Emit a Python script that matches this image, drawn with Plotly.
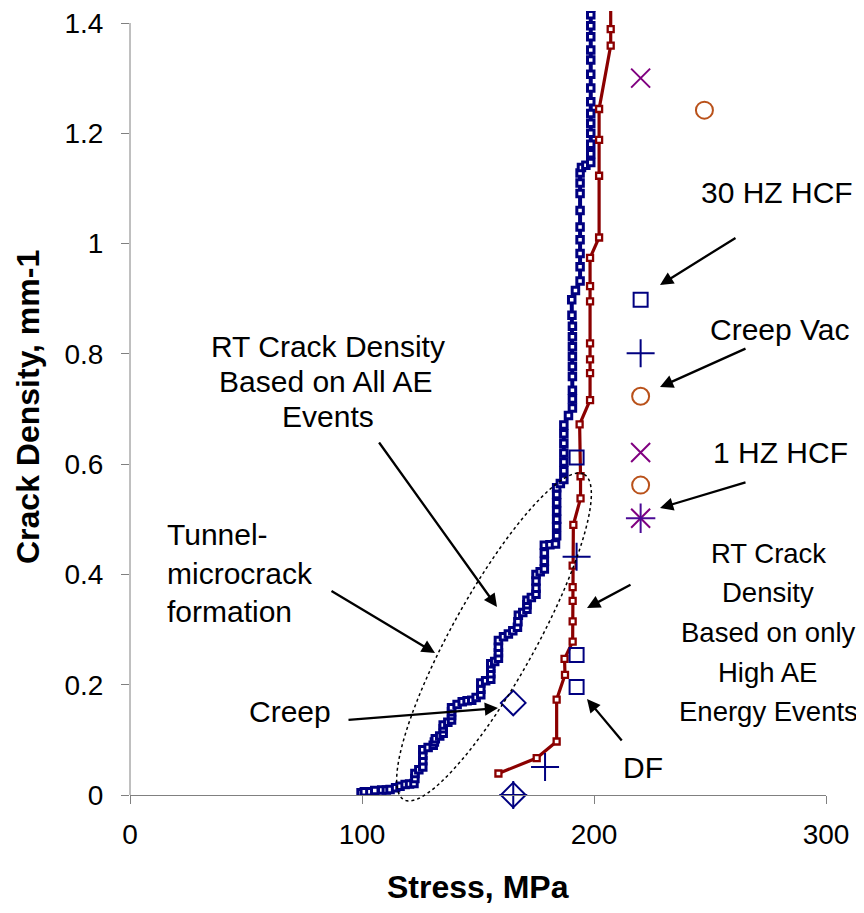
import numpy as np
import plotly.graph_objects as go

# ---------------- data ----------------
# RT crack density based on all AE events (navy step curve)
stress_all_ae = [
    99.6, 101.0, 103.4, 105.5, 108.5, 110.5, 112.1, 114.5, 116.4, 118.6,
    120.5, 122.4, 122.8, 122.8, 124.5, 126.2, 126.2, 126.2, 126.2, 128.5,
    130.7, 131.2, 131.6, 133.5, 135.0, 135.0, 135.0, 137.0, 138.6, 138.6,
    138.6, 138.6, 141.0, 143.2, 145.3, 147.3, 149.2, 151.2, 151.2, 151.2,
    153.3, 155.5, 155.5, 155.5, 155.5, 157.2, 158.8, 158.8, 158.8, 158.8,
    161.0, 163.1, 165.0, 167.0, 167.2, 167.4, 169.3, 171.1, 171.1, 171.1,
    173.0, 175.0, 175.0, 175.0, 175.0, 176.8, 178.6, 178.6, 178.6, 178.6,
    181.0, 183.4, 183.9, 183.9, 183.9, 183.9, 183.9, 183.9, 183.9, 185.5,
    187.0, 187.0, 187.0, 187.0, 187.0, 187.0, 187.0, 189.0, 190.7, 190.7,
    190.7, 190.7, 190.7, 190.7, 190.7, 190.7, 190.7, 190.5, 190.4, 192.0,
    194.0, 194.0, 194.0, 194.0, 194.0, 194.0, 194.0, 194.0, 194.0, 194.6,
    196.5, 198.6, 198.6, 198.6, 198.6, 198.6, 198.6, 198.6, 198.6, 198.6,
    198.6, 198.6, 198.6, 198.6, 198.6, 201.9,
]
density_all_ae = [
    0.004, 0.006, 0.006, 0.008, 0.009, 0.009, 0.010, 0.013, 0.016, 0.019,
    0.020, 0.021, 0.030, 0.039, 0.046, 0.051, 0.062, 0.072, 0.082, 0.086,
    0.090, 0.096, 0.102, 0.107, 0.112, 0.120, 0.127, 0.132, 0.136, 0.144,
    0.151, 0.158, 0.164, 0.169, 0.171, 0.172, 0.177, 0.182, 0.192, 0.203,
    0.207, 0.210, 0.220, 0.230, 0.238, 0.242, 0.248, 0.258, 0.268, 0.280,
    0.287, 0.292, 0.298, 0.304, 0.314, 0.326, 0.331, 0.337, 0.345, 0.353,
    0.358, 0.364, 0.375, 0.388, 0.400, 0.405, 0.410, 0.424, 0.439, 0.453,
    0.454, 0.455, 0.470, 0.487, 0.500, 0.515, 0.530, 0.545, 0.557, 0.565,
    0.572, 0.588, 0.604, 0.620, 0.638, 0.655, 0.671, 0.688, 0.702, 0.718,
    0.734, 0.759, 0.777, 0.795, 0.813, 0.831, 0.850, 0.870, 0.898, 0.915,
    0.932, 0.958, 0.982, 1.007, 1.030, 1.060, 1.091, 1.110, 1.128, 1.138,
    1.142, 1.147, 1.163, 1.180, 1.200, 1.218, 1.236, 1.257, 1.282, 1.307,
    1.333, 1.351, 1.375, 1.395, 1.415, 1.435,
]

# RT crack density based on only high AE energy events (dark red curve)
stress_high_ae = [158.8, 175.3, 183.9, 183.9, 187.5, 187.3, 190.8, 190.8, 190.8, 190.8,
                  190.8, 191.1, 194.2, 194.2, 193.8, 198.3, 198.3, 198.3, 198.3, 198.3,
                  198.3, 198.3, 202.2, 202.2, 202.2, 202.2, 207.2, 207.2, 207.2]
density_high_ae = [0.039, 0.067, 0.097, 0.173, 0.218, 0.247, 0.278, 0.315, 0.352, 0.377,
                   0.416, 0.490, 0.538, 0.578, 0.672, 0.716, 0.765, 0.790, 0.819, 0.895,
                   0.923, 0.974, 1.011, 1.123, 1.188, 1.244, 1.359, 1.389, 1.450]

# individual test points
square_stress = [192.5, 192.5, 192.5, 220.1]
square_density = [0.612, 0.254, 0.196, 0.898]
plus_stress = [220.1, 192.5, 178.9, 165.2]
plus_density = [0.801, 0.432, 0.051, 0.0]
diamond_stress = [165.2, 165.2]
diamond_density = [0.167, 0.0]
circle_stress = [247.6, 220.1, 220.1]
circle_density = [1.242, 0.723, 0.562]
xmark_stress = [220.1, 220.1]
xmark_density = [1.300, 0.621]
star_stress = [220.1]
star_density = [0.502]

x_ticks = [0, 100, 200, 300]
y_ticks = [0, 0.2, 0.4, 0.6, 0.8, 1.0, 1.2, 1.4]
y_tick_text = ["0", "0.2", "0.4", "0.6", "0.8", "1", "1.2", "1.4"]

# ---------------- layout geometry (window pixels) ----------------
WIN_W, WIN_H = 864, 913
OFF = 8                  # default page margin in front of the figure
W, H = WIN_W - OFF, WIN_H - OFF
L, R = 130, 826          # window pixel x of stress 0 and 300
B = 795                  # window pixel y of density 0
T_TICK = 23              # window pixel y of density 1.4
T_CLIP = 11              # top of plotting area (curves run slightly above 1.4)
PPU_Y = (B - T_TICK) / 1.4
Y_TOP = 1.4 + (T_TICK - T_CLIP) / PPU_Y

NAVY = "#000080"
DRED = "#8B0000"
BROWN = "#B9511A"
PURPLE = "#800080"
GRAY = "#808080"
FONT = "Liberation Sans, Arial, sans-serif"


def px2x(px):
    return (px - L) / (R - L) * 300.0


def py2y(py):
    return (B - py) / PPU_Y


def ppx(px):
    return (px - L) / (R - L)


def ppy(py):
    return (B - py) / (B - T_CLIP)


fig = go.Figure()

fig.add_trace(go.Scatter(
    x=stress_all_ae, y=density_all_ae, mode="lines+markers",
    name="RT Crack Density Based on All AE Events",
    line=dict(color=NAVY, width=4),
    marker=dict(symbol="square", size=6.5, color="white", line=dict(color=NAVY, width=3)),
))
fig.add_trace(go.Scatter(
    x=stress_high_ae, y=density_high_ae, mode="lines+markers",
    name="RT Crack Density Based on only High AE Energy Events",
    line=dict(color=DRED, width=3.2),
    marker=dict(symbol="square", size=6, color="white", line=dict(color=DRED, width=2.3)),
))

fig.add_trace(go.Scatter(
    x=square_stress, y=square_density, mode="markers", name="squares", cliponaxis=False,
    marker=dict(symbol="square-open", size=14, color=NAVY, line=dict(color=NAVY, width=2)),
))
fig.add_trace(go.Scatter(
    x=plus_stress, y=plus_density, mode="markers", name="plus", cliponaxis=False,
    marker=dict(symbol="cross-thin-open", size=20, color=NAVY, line=dict(color=NAVY, width=2)),
))
fig.add_trace(go.Scatter(
    x=diamond_stress, y=diamond_density, mode="markers", name="diamonds", cliponaxis=False,
    marker=dict(symbol="diamond-open", size=19, color=NAVY, line=dict(color=NAVY, width=2)),
))
fig.add_trace(go.Scatter(
    x=circle_stress, y=circle_density, mode="markers", name="circles", cliponaxis=False,
    marker=dict(symbol="circle-open", size=17, color=BROWN, line=dict(color=BROWN, width=2)),
))
fig.add_trace(go.Scatter(
    x=xmark_stress, y=xmark_density, mode="markers", name="x", cliponaxis=False,
    marker=dict(symbol="x-thin-open", size=19, color=PURPLE, line=dict(color=PURPLE, width=2)),
))
fig.add_trace(go.Scatter(
    x=star_stress, y=star_density, mode="markers", name="star x", cliponaxis=False,
    marker=dict(symbol="x-thin-open", size=19, color=PURPLE, line=dict(color=PURPLE, width=2)),
))
fig.add_trace(go.Scatter(
    x=star_stress, y=star_density, mode="markers", name="star +", cliponaxis=False,
    marker=dict(symbol="cross-thin-open", size=21, color="#4B0A96", line=dict(color="#4B0A96", width=2)),
))

# ---------------- annotations ----------------
annotations = []


def text(t, cx, cy, size=30, anchor="center"):
    annotations.append(dict(
        text=t, xref="paper", yref="paper", x=ppx(cx), y=ppy(cy),
        xanchor=anchor, yanchor="middle", showarrow=False,
        font=dict(family=FONT, size=size, color="black"),
    ))


def arrow(tail, head):
    annotations.append(dict(
        text="", xref="x", yref="y", x=px2x(head[0]), y=py2y(head[1]),
        axref="pixel", ayref="pixel", ax=tail[0] - head[0], ay=tail[1] - head[1],
        showarrow=True, arrowhead=2, arrowsize=1.15, arrowwidth=2.3, arrowcolor="black",
    ))


text("30 HZ HCF", 777, 192)
text("Creep Vac", 780, 329)
text("1 HZ HCF", 780, 453)
text("RT Crack Density", 328, 346)
text("Based on All AE", 326, 381)
text("Events", 328, 416)
text("Tunnel-", 165, 534, anchor="left")
text("microcrack", 165, 573, anchor="left")
text("formation", 165, 611, anchor="left")
text("Creep", 290, 711)
text("DF", 643, 767)
text("RT Crack", 768, 553, size=27.5)
text("Density", 768, 592, size=27.5)
text("Based on only", 768, 632, size=27.5)
text("High AE", 767, 672, size=27.5)
text("Energy Events", 768, 711, size=27.5)

arrow((737, 237), (660, 285))
arrow((747, 348), (660, 387))
arrow((747, 482), (660, 508))
arrow((378, 441), (497, 607))
arrow((330, 590), (435, 653))
arrow((347, 720), (498, 708))
arrow((632, 584), (587, 608))
arrow((623, 742), (587, 699))

# axis titles
annotations.append(dict(
    text="<b>Crack Density, mm-1</b>", xref="paper", yref="paper",
    x=ppx(28), y=ppy(407), textangle=-90, showarrow=False,
    xanchor="center", yanchor="middle",
    font=dict(family=FONT, size=32, color="black"),
))
annotations.append(dict(
    text="<b>Stress, MPa</b>", xref="paper", yref="paper",
    x=ppx(478), y=ppy(887), showarrow=False,
    xanchor="center", yanchor="middle",
    font=dict(family=FONT, size=32, color="black"),
))

# ---------------- shapes ----------------
shapes = []
# y axis line (only up to 1.4)
shapes.append(dict(type="line", xref="paper", yref="y", x0=0, x1=0, y0=0, y1=1.4,
                   line=dict(color=GRAY, width=1)))
# dotted ellipse around tunnel-microcrack formation region
cx, cy, a, b, th = 494.0, 637.0, 186.0, 42.0, np.deg2rad(61.0)
t = np.linspace(0, 2 * np.pi, 121)
ux, uy = np.cos(th), -np.sin(th)
vx, vy = np.sin(th), np.cos(th)
ex = cx + a * np.cos(t) * ux + b * np.sin(t) * vx
ey = cy + a * np.cos(t) * uy + b * np.sin(t) * vy
path = "M " + " L ".join("%.5f,%.5f" % (ppx(px), ppy(py)) for px, py in zip(ex, ey)) + " Z"
shapes.append(dict(type="path", xref="paper", yref="paper", path=path,
                   line=dict(color="black", width=1.5, dash="dot")))

fig.update_layout(
    width=W, height=H,
    margin=dict(l=L - OFF, r=WIN_W - R, t=T_CLIP - OFF, b=WIN_H - B, autoexpand=False),
    paper_bgcolor="white", plot_bgcolor="white",
    showlegend=False,
    annotations=annotations, shapes=shapes,
    font=dict(family=FONT, color="black"),
    xaxis=dict(range=[0, 300], tickvals=x_ticks, ticks="outside", ticklen=8, tickcolor=GRAY,
               showline=True, linecolor=GRAY, linewidth=1, showgrid=False, zeroline=False,
               tickfont=dict(family=FONT, size=28, color="black"), ticklabelstandoff=6,
               ticklabeloverflow="allow"),
    yaxis=dict(range=[0, Y_TOP], tickvals=y_ticks, ticktext=y_tick_text, ticks="outside",
               ticklen=8, tickcolor=GRAY, showline=False, showgrid=False, zeroline=False,
               tickfont=dict(family=FONT, size=28, color="black"), ticklabelstandoff=12,
               ticklabeloverflow="allow"),
)

fig.write_html("out.html")
